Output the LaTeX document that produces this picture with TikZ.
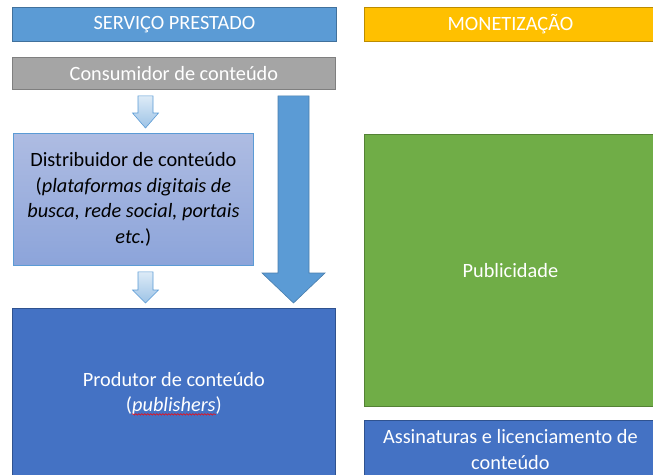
\documentclass[tikz,border=0pt]{standalone}
\usepackage{fontspec}
\setmainfont{Carlito}
\usetikzlibrary{calc,decorations.pathmorphing}
\definecolor{hdrblue}{HTML}{5B9BD5}
\definecolor{hdrblueline}{HTML}{41719C}
\definecolor{gold}{HTML}{FFC000}
\definecolor{goldline}{HTML}{BC8C00}
\definecolor{grey}{HTML}{A5A5A5}
\definecolor{greyline}{HTML}{7F7F7F}
\definecolor{darkblue}{HTML}{4472C4}
\definecolor{darkblueline}{HTML}{2F528F}
\definecolor{leaf}{HTML}{70AD47}
\definecolor{leafline}{HTML}{548235}
\definecolor{lavtop}{HTML}{AEBCE2}
\definecolor{lavbot}{HTML}{8CA4DA}
\definecolor{pale}{HTML}{DDEBF7}
\definecolor{paledeep}{HTML}{9DC3E6}
\tikzset{
    box/.style={draw,line width=0.8pt,anchor=north west,align=center,inner sep=0pt,
        font=\fontsize{20.3}{25.5}\selectfont},
    hdr/.style={box,text=white},
}
% block arrow from the bottom of #2 to the top of #3
\newcommand\BlockArrow[7]{%
    \draw[#1] let \p1=(#2.south), \p2=(#3.north) in
        ({#4pt-#5pt},{\y1-6pt}) -- ({#4pt+#5pt},{\y1-6pt})
        -- ({#4pt+#5pt},{\y2+5pt+#7pt}) -- ({#4pt+#6pt},{\y2+5pt+#7pt})
        -- ({#4pt},{\y2+5pt}) -- ({#4pt-#6pt},{\y2+5pt+#7pt})
        -- ({#4pt-#5pt},{\y2+5pt+#7pt}) -- cycle;
}

\begin{document}
\begin{tikzpicture}[x=1pt,y=-1pt]
    \useasboundingbox (0,0) rectangle (653,474);
    \begin{scope} % headers
        \node[hdr,fill=hdrblue,draw=hdrblueline,minimum width=324,minimum height=34] (servico) at (12,7) {SERVIÇO PRESTADO};
        \node[hdr,fill=gold,draw=goldline,minimum width=292,minimum height=34] (monet) at (364,7) {MONETIZAÇÃO};
    \end{scope}
    \begin{scope} % service chain
        \node[hdr,fill=grey,draw=greyline,minimum width=323,minimum height=32] (cons) at (12,57) {Consumidor de conteúdo};
        \node[box,top color=lavtop,bottom color=lavbot,draw=hdrblue,minimum width=240,minimum height=132] (dist) at (13,133)
            {Distribuidor de conteúdo\\(\textit{plataformas digitais de}\\\textit{busca, rede social, portais}\\\textit{etc.})};
        \node[hdr,fill=darkblue,draw=darkblueline,minimum width=323,minimum height=170] (prod) at (12,308)
            {Produtor de conteúdo\\(\textit{publishers})};
        \draw[red,line width=0.5pt,decorate,decoration={snake,amplitude=0.8pt,segment length=3pt}]
            ($(prod.center)+(-42,21)$) -- ($(prod.center)+(42,21)$);
    \end{scope}
    \begin{scope} % monetization
        \node[hdr,fill=leaf,draw=leafline,minimum width=292,minimum height=272] (pub) at (364,134) {Publicidade};
        \node[hdr,fill=darkblue,draw=darkblueline,minimum width=292,minimum height=58] (assin) at (364,420)
            {Assinaturas e licenciamento de\\conteúdo};
    \end{scope}
    \BlockArrow{top color=pale,bottom color=paledeep,draw=hdrblue,line width=0.6pt}{cons}{dist}{145.5}{7.5}{13}{15}
    \BlockArrow{top color=pale,bottom color=paledeep,draw=hdrblue,line width=0.6pt}{dist}{prod}{145.5}{7.5}{13}{13}
    \BlockArrow{fill=hdrblue,draw=hdrblueline!70!hdrblue,line width=0.6pt}{cons}{prod}{293.5}{15.5}{31.5}{30}
\end{tikzpicture}
\end{document}
